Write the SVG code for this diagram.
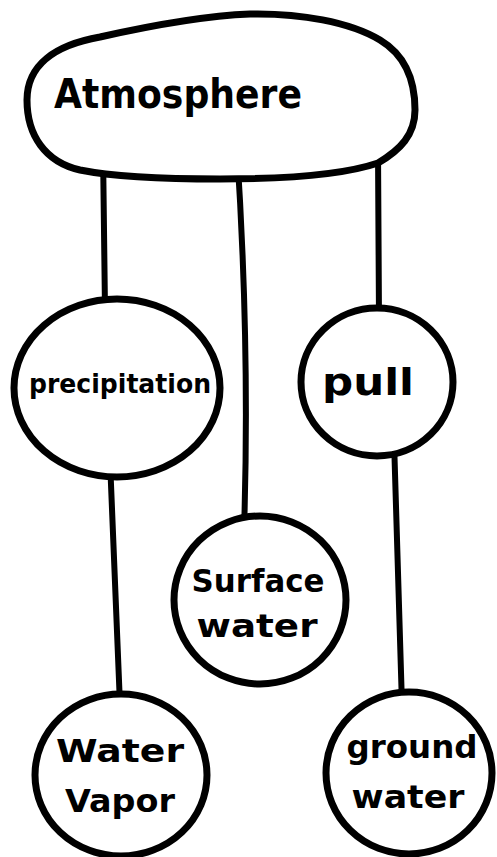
<svg xmlns="http://www.w3.org/2000/svg" width="497" height="857" viewBox="0 0 497 857">
<style>
.n{fill:#fff;stroke:#000;stroke-width:7}
.c{fill:none;stroke:#000;stroke-width:6;stroke-linecap:round}
.t{font-family:"DejaVu Sans","Liberation Sans",sans-serif;font-weight:bold;fill:#000;text-anchor:middle}
</style>
<rect width="497" height="857" fill="#fff"/>
<g id="connectors">
<path class="c" d="M103 150 L105 310"/>
<path class="c" d="M237 150 Q250 350 244 530"/>
<path class="c" d="M378 150 L379 320"/>
<path class="c" d="M110 460 L120 705"/>
<path class="c" d="M394 440 L402 705"/>
</g>
<g id="atmosphere">
<path class="n" d="M27 100 C27 65 55 45 100 37 C140 28 200 16 250 14 C300 13 350 22 380 40 C405 55 415 80 415 110 C415 135 400 150 378 163 C340 176 280 179 220 179 C160 179 110 176 80 170 C45 162 27 135 27 100 Z"/>
<text class="t" x="178" y="108" font-size="40" textLength="248" lengthAdjust="spacingAndGlyphs">Atmosphere</text>
</g>
<g id="precipitation">
<ellipse class="n" cx="117" cy="388" rx="103" ry="89"/>
<text class="t" x="120" y="393" font-size="26" textLength="182" lengthAdjust="spacingAndGlyphs">precipitation</text>
</g>
<g id="pull">
<ellipse class="n" cx="377" cy="382" rx="76" ry="74"/>
<text class="t" x="368" y="395" font-size="38" textLength="92" lengthAdjust="spacingAndGlyphs">pull</text>
</g>
<g id="surface-water">
<ellipse class="n" cx="260" cy="600" rx="86" ry="84"/>
<text class="t" x="258" y="592" font-size="32" textLength="133" lengthAdjust="spacingAndGlyphs">Surface</text>
<text class="t" x="257" y="637" font-size="32" textLength="121" lengthAdjust="spacingAndGlyphs">water</text>
</g>
<g id="water-vapor">
<ellipse class="n" cx="121" cy="775" rx="86" ry="81"/>
<text class="t" x="120" y="762" font-size="32" textLength="128" lengthAdjust="spacingAndGlyphs">Water</text>
<text class="t" x="120" y="812" font-size="32" textLength="110" lengthAdjust="spacingAndGlyphs">Vapor</text>
</g>
<g id="ground-water">
<ellipse class="n" cx="409" cy="773" rx="83" ry="81"/>
<text class="t" x="412" y="758" font-size="32" textLength="131" lengthAdjust="spacingAndGlyphs">ground</text>
<text class="t" x="408" y="808" font-size="32" textLength="113" lengthAdjust="spacingAndGlyphs">water</text>
</g>
</svg>
